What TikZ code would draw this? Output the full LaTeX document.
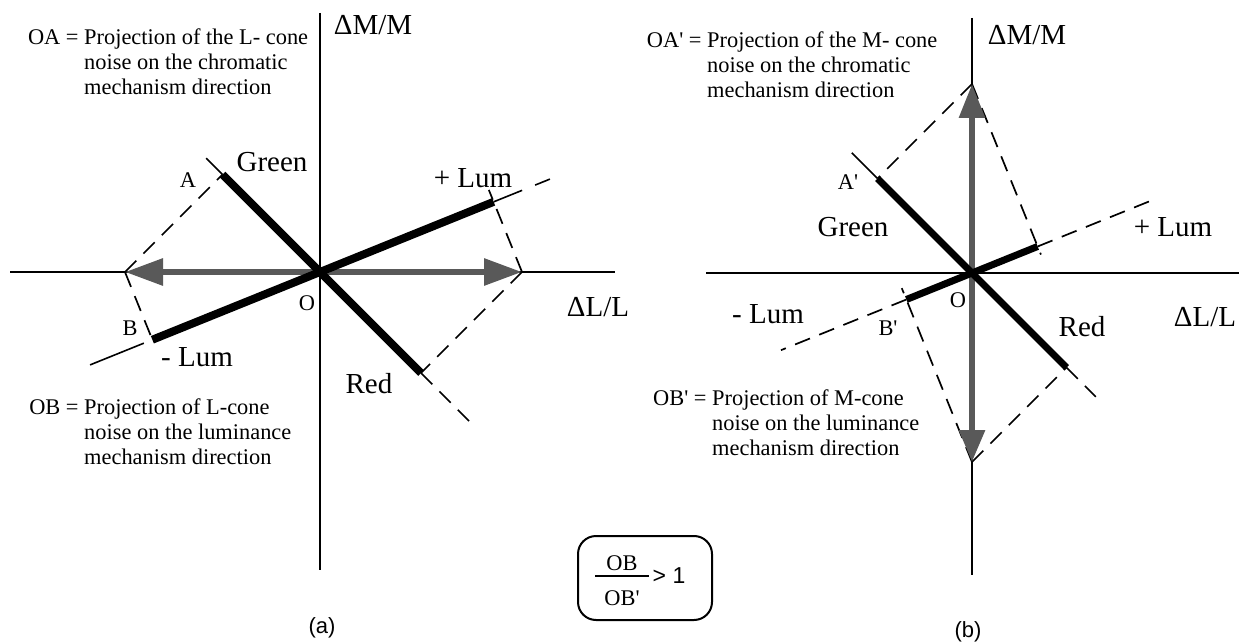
\documentclass[tikz,border=0pt]{standalone}
\usepackage{fontspec}
\setmainfont{Liberation Serif}
\setsansfont{Liberation Sans}
\usetikzlibrary{arrows.meta,calc}
\newcommand{\bodyfont}{\fontsize{22.4}{25}\selectfont}
\newcommand{\labelfont}{\fontsize{29}{32}\selectfont}

\begin{document}
\begin{tikzpicture}[x=1pt,y=1pt,
  axis/.style={line width=1.8pt},
  noise/.style={line width=8pt},
  thinline/.style={line width=1.6pt},
  guide/.style={line width=1.7pt, dash pattern=on 16pt off 10pt},
  proj/.style={line width=6pt, black!65, -{Triangle[length=38pt,width=26pt]}},
  lbl/.style={inner sep=0pt, font=\labelfont},
  pt/.style={inner sep=0pt, font=\bodyfont},
  note/.style={inner sep=0pt, font=\bodyfont, align=left, anchor=north west}]
\useasboundingbox (0,0) rectangle (1239,-644);
% Left panel (a): L-cone noise
\begin{scope}[shift={(320,-272)}]
\coordinate (O) at (0,0);
\coordinate (tipL) at (-195,0);
\coordinate (tipR) at (202,0);
\coordinate (A) at ($(O)!(tipL)!(135:10)$);
\coordinate (B) at ($(O)!(tipL)!(202:10)$);
\coordinate (P) at ($(O)!(tipR)!(22:10)$);
\coordinate (R) at ($(O)!(tipR)!(-45:10)$);
\draw[axis] (-310,0) -- (295,0);
\draw[axis] (0,259) -- (0,-298);
\draw[thinline] (A) -- (135:161);
\draw[guide] (R) -- (-45:220);
\draw[thinline] (P) -- (22:218);
\draw[thinline] (22:232) -- (22:248);
\draw[thinline] (202:190) -- (202:248);
\draw[guide] (tipL) -- (A);
\draw[guide] (tipL) -- (B);
\draw[guide] (tipR) -- ($(tipR)!1.17!(P)$);
\draw[guide] (tipR) -- (R);
\draw[proj] (O) -- (tipL);
\draw[proj] (O) -- (tipR);
\draw[noise] (A) -- (R);
\draw[noise] (B) -- (P);
\end{scope}
\node[lbl] (dMa) at (373,-25) {ΔM/M};
\node[lbl] (dLa) at (598,-307) {ΔL/L};
\node[lbl] (greena) at (272,-162) {Green};
\node[lbl] (plusa) at (473,-178) {+ Lum};
\node[lbl] (minusa) at (197,-357) {- Lum};
\node[lbl] (reda) at (369,-384) {Red};
\node[pt] (Oa) at (307,-303) {O};
\node[pt] (Aa) at (188,-180) {A};
\node[pt] (Ba) at (130,-328) {B};
\node[note] (noteOA) at (84,-29) {\llap{OA = }Projection of the L- cone\\noise on the chromatic\\mechanism direction};
\node[note] (noteOB) at (84,-399) {\llap{OB = }Projection of L-cone\\noise on the luminance\\mechanism direction};
\node[pt, font=\sffamily\fontsize{22}{24}\selectfont] (capa) at (322,-628) {(a)};
% Right panel (b): M-cone noise
\begin{scope}[shift={(972,-273)}]
\coordinate (Ob) at (0,0);
\coordinate (tipU) at (0,189);
\coordinate (tipD) at (0,-189);
\coordinate (Ab) at ($(Ob)!(tipU)!(135:10)$);
\coordinate (Pb) at ($(Ob)!(tipU)!(22:10)$);
\coordinate (Bb) at ($(Ob)!(tipD)!(202:10)$);
\coordinate (Rb) at ($(Ob)!(tipD)!(-45:10)$);
\draw[axis] (-266,0) -- (267,0);
\draw[axis] (0,255) -- (0,-302);
\draw[thinline] (Ab) -- (135:170);
\draw[guide] (Rb) -- (-45:175);
\draw[guide] (Pb) -- (22:200);
\draw[guide] (Bb) -- (202:206);
\draw[guide] (tipU) -- (Ab);
\draw[guide] (tipU) -- ($(tipU)!1.05!(Pb)$);
\draw[guide] (tipD) -- ($(tipD)!1.07!(Bb)$);
\draw[guide] (tipD) -- (Rb);
\draw[proj, -{Triangle[length=34pt,width=25pt]}] (Ob) -- (tipU);
\draw[proj, -{Triangle[length=32pt,width=25pt]}] (Ob) -- (tipD);
\draw[noise, line width=7pt] (Ab) -- (Rb);
\draw[noise, line width=7pt] (Bb) -- (Pb);
\end{scope}
\node[lbl] (dMb) at (1027,-35) {ΔM/M};
\node[lbl] (dLb) at (1205,-317) {ΔL/L};
\node[lbl] (greenb) at (853,-227) {Green};
\node[lbl] (plusb) at (1173,-227) {+ Lum};
\node[lbl] (minusb) at (768,-314) {- Lum};
\node[lbl] (redb) at (1082,-327) {Red};
\node[pt] (Obl) at (958,-300) {O};
\node[pt] (Abl) at (848,-182) {A\textquotesingle};
\node[pt] (Bbl) at (888,-328) {B\textquotesingle};
\node[note] (noteOAb) at (707,-32) {\llap{OA\textquotesingle{} = }Projection of the M- cone\\noise on the chromatic\\mechanism direction};
\node[note] (noteOBb) at (712,-390) {\llap{OB\textquotesingle{} = }Projection of M-cone\\noise on the luminance\\mechanism direction};
\node[pt, font=\sffamily\fontsize{22}{24}\selectfont] (capb) at (968,-632) {(b)};
% ratio box
\node[draw, line width=2pt, rounded corners=18pt, minimum width=134pt, minimum height=84pt] (ratiobox) at (645,-578) {};
\node[pt] (num) at (622,-563) {OB};
\node[pt] (den) at (622,-598) {OB\textquotesingle};
\draw[line width=2pt] ($(num)+(-27,-13)$) -- ($(num)+(27,-13)$);
\node[pt, font=\sffamily\fontsize{23}{25}\selectfont] (gt) at (669,-576) {> 1};
\end{tikzpicture}
\end{document}
